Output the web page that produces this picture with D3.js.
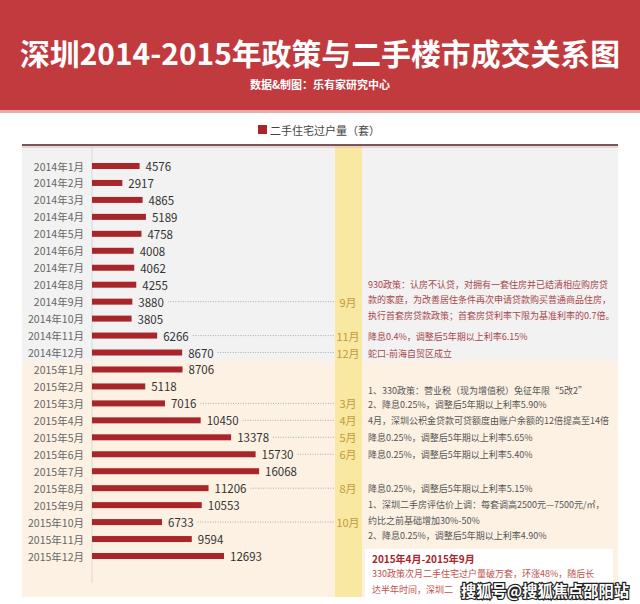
<!DOCTYPE html>
<html>
<head>
<meta charset="utf-8">
<style>
    body {margin: 0; background: #fff;}
    text {font-family: "Noto Sans CJK SC", "Noto Sans", sans-serif;}
</style>
<script src="https://d3js.org/d3.v7.min.js"></script>
</head>
<body>
<script>

// monthly second-hand housing transfers (sets)
var months = ["2014年1月", "2014年2月", "2014年3月", "2014年4月", "2014年5月", "2014年6月",
    "2014年7月", "2014年8月", "2014年9月", "2014年10月", "2014年11月", "2014年12月",
    "2015年1月", "2015年2月", "2015年3月", "2015年4月", "2015年5月", "2015年6月",
    "2015年7月", "2015年8月", "2015年9月", "2015年10月", "2015年11月", "2015年12月"];
var volumes = [4576, 2917, 4865, 5189, 4758, 4008, 4062, 4255, 3880, 3805, 6266, 8670,
    8706, 5118, 7016, 10450, 13378, 15730, 16068, 11206, 10553, 6733, 9594, 12693];

// policy notes, matched by month
var policyMonths = ["2014年9月", "2014年11月", "2014年12月", "2015年3月", "2015年4月",
    "2015年5月", "2015年6月", "2015年8月", "2015年10月"];
var policyTags = ["9月", "11月", "12月", "3月", "4月", "5月", "6月", "8月", "10月"];
var policyTexts = [
    ["930政策：认房不认贷，对拥有一套住房并已结清相应购房贷",
     "款的家庭，为改善居住条件再次申请贷款购买普通商品住房，",
     "执行首套房贷款政策；首套房贷利率下限为基准利率的0.7倍。"],
    ["降息0.4%，调整后5年期以上利率6.15%"],
    ["蛇口-前海自贸区成立"],
    ["1、330政策：营业税（现为增值税）免征年限“5改2”",
     "2、降息0.25%，调整后5年期以上利率5.90%"],
    ["4月，深圳公积金贷款可贷额度由账户余额的12倍提高至14倍"],
    ["降息0.25%，调整后5年期以上利率5.65%"],
    ["降息0.25%，调整后5年期以上利率5.40%"],
    ["降息0.25%，调整后5年期以上利率5.15%"],
    ["1、深圳二手房评估价上调：每套调高2500元—7500元/㎡，",
     "约比之前基础增加30%-50%",
     "2、降息0.25%，调整后5年期以上利率4.90%"]
];

var noteTitle = "2015年4月-2015年9月";
var noteLines = ["330政策次月二手住宅过户量破万套，环涨48%，随后长", "达半年时间，深圳二"];

var width = 640, height = 604;

var svg = d3.select("body").append("svg")
    .attr("width", width)
    .attr("height", height);

// header
svg.append("rect").attr("x", 0).attr("y", 0).attr("width", width).attr("height", 110)
    .attr("fill", "#c13a3e");
svg.append("rect").attr("x", 0).attr("y", 110).attr("width", width).attr("height", 3)
    .attr("fill", "#e9a9a9");
svg.append("text")
    .attr("x", 320).attr("y", 52)
    .attr("text-anchor", "middle").attr("dominant-baseline", "central")
    .attr("fill", "#fff").attr("font-size", 30).attr("font-weight", "bold")
    .attr("textLength", 600).attr("lengthAdjust", "spacingAndGlyphs")
    .text("深圳2014-2015年政策与二手楼市成交关系图");
svg.append("text")
    .attr("x", 320).attr("y", 84)
    .attr("text-anchor", "middle").attr("dominant-baseline", "central")
    .attr("fill", "#fff").attr("font-size", 11).attr("font-weight", "bold")
    .text("数据&制图：乐有家研究中心");

// legend
svg.append("rect").attr("x", 258).attr("y", 125).attr("width", 9).attr("height", 9)
    .attr("fill", "#a8252a");
svg.append("text")
    .attr("x", 270).attr("y", 130).attr("dominant-baseline", "central")
    .attr("fill", "#444").attr("font-size", 11)
    .text("二手住宅过户量（套）");

// panels
var y = d3.scalePoint().domain(months).range([166, 556]);
var x = d3.scaleLinear().domain([0, 20000]).range([92, 300]);

var split = (y("2014年12月") + y("2015年1月")) / 2;
svg.append("rect").attr("x", 22).attr("y", 146).attr("width", 596).attr("height", split - 146)
    .attr("fill", "#f2f2f2");
svg.append("rect").attr("x", 22).attr("y", split).attr("width", 596).attr("height", 597 - split)
    .attr("fill", "#fdf1e4");
svg.append("rect").attr("x", 335).attr("y", 146).attr("width", 27).attr("height", 451)
    .attr("fill", "#f8e8a2");
svg.append("line").attr("x1", 22).attr("x2", 618).attr("y1", 145).attr("y2", 145)
    .attr("stroke", "#4a1f1f").attr("stroke-width", 1.5);
svg.append("line").attr("x1", 22).attr("x2", 618).attr("y1", 147).attr("y2", 147)
    .attr("stroke", "#ecb4b4").attr("stroke-width", 1);
svg.append("line").attr("x1", 92).attr("x2", 92).attr("y1", 147).attr("y2", 583)
    .attr("stroke", "#d0d0d0").attr("stroke-width", 0.8);

// month labels
svg.append("g").selectAll("text")
    .data(months)
    .enter().append("text")
    .attr("x", 84).attr("y", function (d) { return y(d) })
    .attr("text-anchor", "end").attr("dominant-baseline", "central")
    .attr("fill", "#666").attr("font-size", 10.5)
    .text(function (d) { return d });

// bars
svg.append("g").selectAll("rect")
    .data(volumes)
    .enter().append("rect")
    .attr("x", x(0))
    .attr("y", function (d, i) { return y(months[i]) - 3 })
    .attr("width", function (d) { return x(d) - x(0) })
    .attr("height", 6)
    .attr("fill", "#a8252a");

var values = svg.append("g").selectAll("text")
    .data(volumes)
    .enter().append("text")
    .attr("x", function (d) { return x(d) + 6 })
    .attr("y", function (d, i) { return y(months[i]) })
    .attr("dominant-baseline", "central")
    .attr("fill", "#333").attr("font-size", 11.5)
    .text(function (d) { return d });

// dotted leaders, tags and notes
var ends = [];
values.each(function (d, i) { ends[i] = x(d) + 6 + this.getComputedTextLength() });

policyMonths.forEach(function (m, k) {
    var i = months.indexOf(m), cy = y(m);
    svg.append("line")
        .attr("x1", ends[i] + 4).attr("x2", 334)
        .attr("y1", cy).attr("y2", cy)
        .attr("stroke", "#999").attr("stroke-width", 0.8)
        .attr("stroke-dasharray", "1,1.5");
    svg.append("text")
        .attr("x", 348).attr("y", cy)
        .attr("text-anchor", "middle").attr("dominant-baseline", "central")
        .attr("fill", "#c49a3c").attr("font-size", 11)
        .text(policyTags[k]);
    var lines = policyTexts[k],
        lh = lines.length > 2 ? 15.5 : 14,
        shift = lines.length == 2 ? -5.5 : (lines.length == 1 ? 0.5 : -2);
    svg.append("g").selectAll("text")
        .data(lines)
        .enter().append("text")
        .attr("x", 368)
        .attr("y", function (d, j) { return cy + (j - (lines.length - 1) / 2) * lh + shift })
        .attr("dominant-baseline", "central")
        .attr("fill", i < 12 ? "#a8464b" : "#555")
        .attr("font-size", 9)
        .text(function (d) { return d });
});

// summary box
svg.append("rect").attr("x", 365).attr("y", 549).attr("width", 248).attr("height", 48)
    .attr("fill", "#fff");
svg.append("text")
    .attr("x", 372).attr("y", 558).attr("dominant-baseline", "central")
    .attr("fill", "#a8252a").attr("font-size", 10).attr("font-weight", "bold")
    .text(noteTitle);
svg.append("g").selectAll("text")
    .data(noteLines)
    .enter().append("text")
    .attr("x", 372).attr("y", function (d, j) { return 573 + j * 16 })
    .attr("dominant-baseline", "central")
    .attr("fill", "#c0504d").attr("font-size", 9)
    .text(function (d) { return d });

// site watermark
svg.append("text")
    .attr("x", 629).attr("y", 590)
    .attr("text-anchor", "end").attr("dominant-baseline", "central")
    .attr("font-size", 16).attr("font-weight", "bold")
    .attr("textLength", 168).attr("lengthAdjust", "spacingAndGlyphs")
    .attr("fill", "#fff").attr("stroke", "#222").attr("stroke-width", 2.5)
    .attr("paint-order", "stroke")
    .text("搜狐号@搜狐焦点邵阳站");

</script>
</body>
</html>
